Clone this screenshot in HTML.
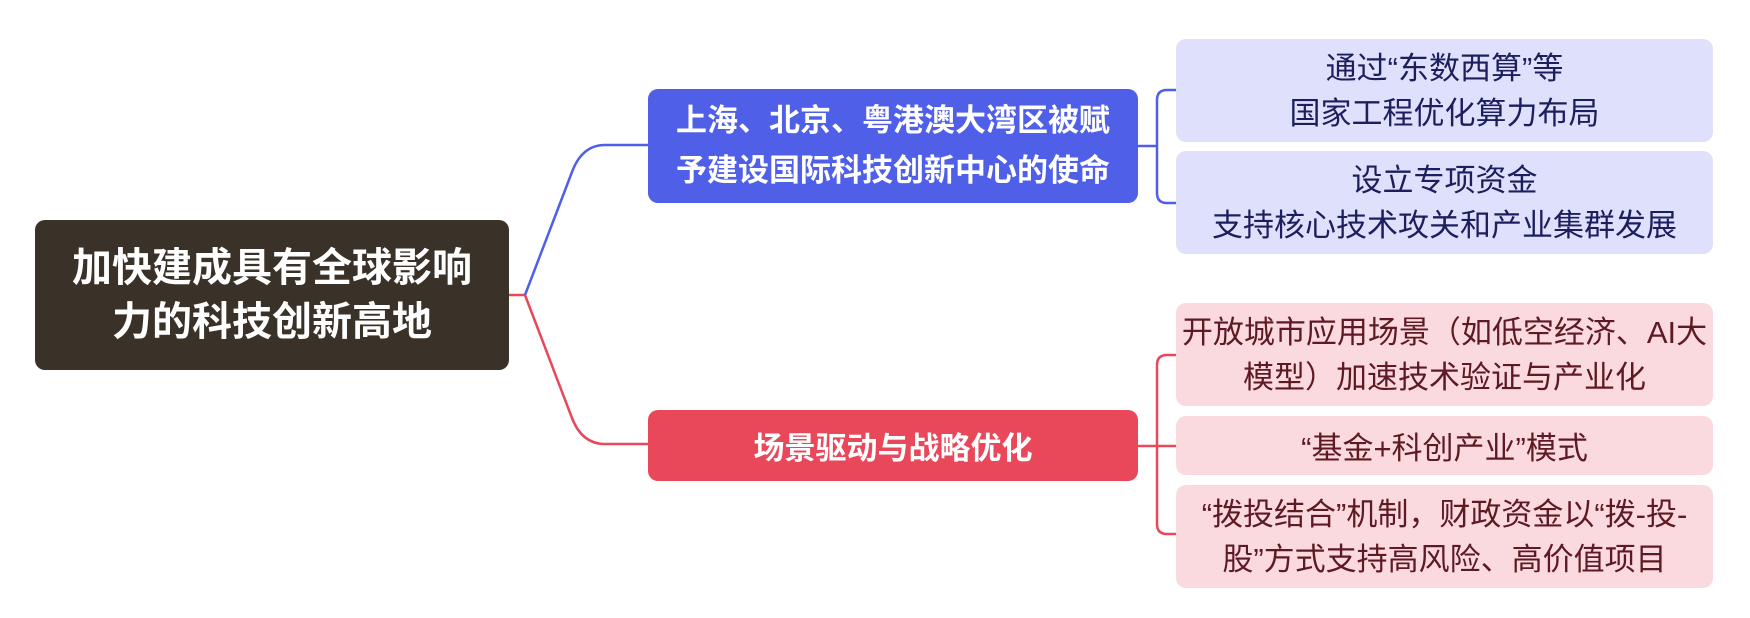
<!DOCTYPE html>
<html><head><meta charset="utf-8"><style>
html,body{margin:0;padding:0;background:#fff;}
body{width:1750px;height:618px;position:relative;overflow:hidden;font-family:"Liberation Sans","Noto Sans CJK SC",sans-serif;}
.n{position:absolute;box-sizing:border-box;display:flex;align-items:center;justify-content:center;text-align:center;border-radius:10px;white-space:nowrap;}
svg{position:absolute;left:0;top:0;}
</style></head><body>
<svg width="1750" height="618" viewBox="0 0 1750 618" fill="none" stroke-width="2.5">
<path d="M508 295 H525" stroke="#e8485a"/>
<path d="M525 295 L572 172 Q582 145 605 145 H650" stroke="#4f5fe8"/>
<path d="M525 295 L572 418 Q582 444 605 444 H650" stroke="#e8485a"/>
<path d="M1136 146 H1157" stroke="#4f5fe8"/>
<path d="M1176 90 H1167 Q1157 90 1157 100 V193 Q1157 203 1167 203 H1176" stroke="#4f5fe8"/>
<path d="M1136 446 H1176" stroke="#e8485a"/>
<path d="M1176 355 H1167 Q1157 355 1157 365 V524 Q1157 534 1167 534 H1176" stroke="#e8485a"/>
</svg>
<div class="n" style="left:35px;top:220px;width:474px;height:150px;background:#3a3128;color:#fff;font-size:40px;line-height:54px;font-weight:bold;">加快建成具有全球影响<br>力的科技创新高地</div>
<div class="n" style="left:648px;top:89px;width:490px;height:114px;background:#4f5fe8;color:#fff;font-size:31px;line-height:50px;font-weight:bold;">上海、北京、粤港澳大湾区被赋<br>予建设国际科技创新中心的使命</div>
<div class="n" style="left:648px;top:410px;width:490px;height:71px;background:#e8485a;color:#fff;font-size:31px;font-weight:bold;">场景驱动与战略优化</div>
<div class="n" style="left:1176px;top:39px;width:537px;height:103px;background:#dfe0fb;color:#1c1f5e;font-size:31px;line-height:45px;">通过“东数西算”等<br>国家工程优化算力布局</div>
<div class="n" style="left:1176px;top:151px;width:537px;height:103px;background:#dfe0fb;color:#1c1f5e;font-size:31px;line-height:45px;">设立专项资金<br>支持核心技术攻关和产业集群发展</div>
<div class="n" style="left:1176px;top:303px;width:537px;height:103px;background:#fbdadf;color:#5e1a22;font-size:31px;line-height:45px;">开放城市应用场景（如低空经济、AI大<br>模型）加速技术验证与产业化</div>
<div class="n" style="left:1176px;top:416px;width:537px;height:59px;background:#fbdadf;color:#5e1a22;font-size:31px;">“基金+科创产业”模式</div>
<div class="n" style="left:1176px;top:485px;width:537px;height:103px;background:#fbdadf;color:#5e1a22;font-size:31px;line-height:45px;">“拨投结合”机制，财政资金以“拨-投-<br>股”方式支持高风险、高价值项目</div>
</body></html>
